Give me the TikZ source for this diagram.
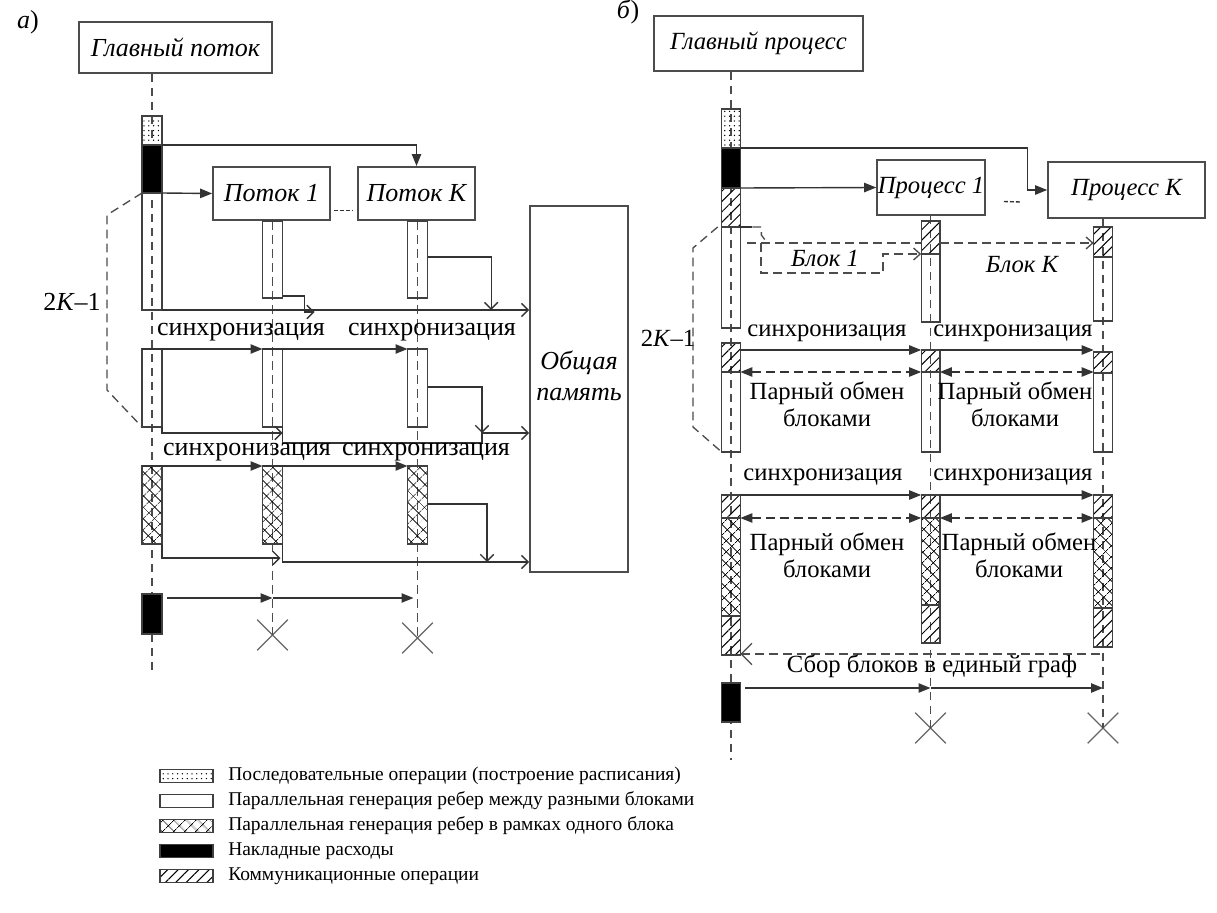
\documentclass[tikz,border=0pt]{standalone}
\usepackage{fontspec}
\setmainfont{Liberation Serif}
\usetikzlibrary{arrows.meta,patterns.meta,shapes.misc,calc}
\newcommand\bseg[6]{\node[#1,#6,anchor=north,minimum height={(#5-#4)*0.75pt}] (#2) at (#3,#4) {};}
\begin{document}
\begin{tikzpicture}[x=0.75pt,y=-0.75pt,
  ln/.style={draw=black!80, line width=1.05pt},
  seg/.style={draw=black!75, line width=1pt, minimum width=15pt, inner sep=0pt, outer sep=0pt},
  segR/.style={seg, minimum width=14pt},
  wht/.style={},
  blk/.style={fill=black},
  dts/.style={pattern={Dots[distance=3.6pt,radius=0.55pt]}},
  hch/.style={pattern={Lines[angle=45,distance=5.5pt,line width=0.75pt]}},
  xch/.style={pattern={Hatch[angle=45,distance=6.5pt,line width=0.6pt]}},
  box/.style={draw=black!70, line width=1.2pt, inner sep=0pt},
  life/.style={draw=black!70, line width=1pt, dash pattern=on 6.5pt off 4pt},
  arr/.style={ln, -{Triangle[length=9pt,width=7pt]}},
  oarr/.style={ln, -{Straight Barb[length=5pt,width=10pt]}},
  darr/.style={ln, dash pattern=on 6.5pt off 4pt, {Triangle[length=9pt,width=7pt]}-{Triangle[length=9pt,width=7pt]}},
  xmark/.style={draw=black!60, line width=1pt, cross out, minimum size=22pt, inner sep=0pt},
  lbl/.style={font=\fontsize{19.5}{23}\selectfont, inner sep=0pt},
  lblI/.style={font=\fontsize{19.5}{23}\selectfont\itshape, inner sep=0pt},
  lblR/.style={font=\fontsize{18.5}{20}\selectfont, inner sep=0pt},
  lblRI/.style={font=\fontsize{18.5}{20}\selectfont\itshape, inner sep=0pt},
  lgd/.style={font=\fontsize{14.6}{17}\selectfont, anchor=west, inner sep=0pt},
]
\useasboundingbox (0,0) rectangle (1217,913);

% ================= panel a =================
\node[lbl] (la) at (28,22) {\textit{а})};
\node[box, lblI, minimum width=144.75pt, minimum height=38.25pt] (aMain) at (175.5,47.5) {Главный поток};
\node[box, lblI, minimum width=87.75pt, minimum height=40pt] (aT1) at (271.5,193.5) {Поток 1};
\node[box, lblI, minimum width=87.75pt, minimum height=40pt] (aTK) at (416.5,193.5) {Поток K};
\node[box, minimum width=73.5pt, minimum height=274.5pt] (aMem) at (579,389) {};
\node[lblI, align=center] (aMemT) at (579,376) {Общая\\память};
\node[xmark] (aX1) at (272.5,635) {};
\node[xmark] (aXK) at (417.5,638) {};

\coordinate (aL) at (152,670);
\draw[life] (aMain.south -| aL) -- (aL);
\draw[life] (aT1.south -| aX1) -- (aX1.center);
\draw[life] (aTK.south -| aXK) -- (aXK.center);

\bseg{seg}{aM0d}{152}{116}{145}{dts}
\bseg{seg}{aM0b}{152}{145}{193}{blk}
\bseg{seg}{aM0w}{152}{193}{310}{wht}
\bseg{seg}{aM1}{152}{349}{427}{wht}
\bseg{seg}{aM2}{152}{466}{544}{xch}
\bseg{seg}{aM3}{152}{594}{634}{blk}
\bseg{seg}{a11}{272.5}{221}{298}{wht}
\bseg{seg}{a12}{272.5}{349}{427}{wht}
\bseg{seg}{a13}{272.5}{466}{544}{xch}
\bseg{seg}{aK1}{417.5}{221}{298}{wht}
\bseg{seg}{aK2}{417.5}{349}{427}{wht}
\bseg{seg}{aK3}{417.5}{466}{544}{xch}

\draw[arr] (aM0b.north east) -| (aTK.north);
\draw[arr] (aM0b.south east) -- (aT1.west);
\draw[ln, dash pattern=on 3pt off 1.5pt] ($(aT1.east)+(3,17)$) -- ($(aTK.west)+(-5,17)$);

% row 1 returns
\draw[oarr] (aM0w.south east) -- (aM0w.south east -| aMem.west);
\draw[oarr] ($(a11.south east)+(0,-2)$) -- ++(22,0) -- ++(0,16) -- ++(10,0);
\draw[oarr] ($(aK1.north east)+(0,36)$) -| ($(aMem.west |- aM0w.south)+(-38,0)$);

% row 2
\draw[arr] (aM1.north west) -- (a12.north west);
\draw[arr] (a12.north west) -- (aK2.north west);
\node[lbl] (as1) at (241,332) {синхронизация};
\node[lbl] (as2) at (432,332) {синхронизация};
\draw[oarr] (aM1.south east) -- ++(0,6) -- ($(a12.south east)+(0,6)$);
\coordinate (aj2) at (482,433);
\draw[oarr] ($(aK2.north east)+(0,38)$) -| (aj2);
\draw[oarr] (a12.south east) |- ($(aj2)+(0,10)$) -- (aj2) -- (aj2 -| aMem.west);

% row 3
\draw[arr] (aM2.north west) -- (a13.north west);
\draw[arr] (a13.north west) -- (aK3.north west);
\node[lbl] (as3) at (247,452) {синхронизация};
\node[lbl] (as4) at (426,452) {синхронизация};
\draw[oarr] (aM2.south east) -- ++(0,14) -- ($(a13.south east)+(-2,14)$);
\coordinate (aj3) at (487,562);
\draw[oarr] ($(aK3.north east)+(0,38)$) -| (aj3);
\draw[oarr] (a13.south east) -- ++(0,18) -- (aj3) -- (aj3 -| aMem.west);

% row 4
\coordinate (a4) at (167,598);
\draw[arr] (a4) -- (a4 -| aX1);
\draw[arr] (a4 -| aX1) -- ($(a4 -| aXK)+(-4,0)$);

% 2K-1
\draw[life] (aM0b.south west) -- (107,215) -- (107,390) -- (aM1.south west);
\node[lbl] (a2k) at (72,302) {2\textit{K}–1};

% ================= panel b =================
\node[lbl] (lb) at (628,12) {\textit{б})};
\node[box, lblRI, minimum width=156.75pt, minimum height=41.25pt] (bMain) at (758.5,43.5) {Главный процесс};
\node[box, lblRI, minimum width=81pt, minimum height=41.25pt] (bP1) at (931,187.5) {Процесс 1};
\node[box, lblRI, minimum width=117.75pt, minimum height=42pt] (bPK) at (1126.5,190) {Процесс K};
\draw[ln, dash pattern=on 3pt off 1.5pt] ($(bP1.east)+(18,14)$) -- ($(bPK.west)+(-27,12)$);
\node[xmark] (bX1) at (930.5,728) {};
\node[xmark] (bXK) at (1103,728) {};

\coordinate (bL) at (731,760);
\draw[life] (bMain.south -| bL) -- (bL);
\draw[life] (bP1.south -| bX1) -- (bX1.center);
\draw[life] (bPK.south -| bXK) -- (bXK.center);

\bseg{segR}{bM0d}{731}{109}{148}{dts}
\bseg{segR}{bM0b}{731}{148}{188}{blk}
\bseg{segR}{bM0h}{731}{188}{227}{hch}
\bseg{segR}{bM0w}{731}{227}{328}{wht}
\bseg{segR}{bM1h}{731}{343}{372}{hch}
\bseg{segR}{bM1w}{731}{372}{452}{wht}
\bseg{segR}{bM2h}{731}{495}{518}{hch}
\bseg{segR}{bM2c}{731}{518}{616}{xch}
\bseg{segR}{bM2e}{731}{616}{655}{hch}
\bseg{segR}{bM3}{731}{683}{722}{blk}
\bseg{segR}{b11h}{930.5}{221}{254}{hch}
\bseg{segR}{b11w}{930.5}{254}{322}{wht}
\bseg{segR}{b12h}{930.5}{350}{372}{hch}
\bseg{segR}{b12w}{930.5}{372}{452}{wht}
\bseg{segR}{b13h}{930.5}{495}{518}{hch}
\bseg{segR}{b13c}{930.5}{518}{605}{xch}
\bseg{segR}{b13e}{930.5}{605}{643}{hch}
\bseg{segR}{bK1h}{1103}{227}{257}{hch}
\bseg{segR}{bK1w}{1103}{257}{321}{wht}
\bseg{segR}{bK2h}{1103}{352}{373}{hch}
\bseg{segR}{bK2w}{1103}{373}{452}{wht}
\bseg{segR}{bK3h}{1103}{495}{518}{hch}
\bseg{segR}{bK3c}{1103}{518}{608}{xch}
\bseg{segR}{bK3e}{1103}{608}{647}{hch}

\draw[arr] (bM0b.north east) -- ++(287,0) |- (bPK.west);
\draw[arr] (bM0b.south east) -- (bP1.west);

% blocks
\draw[ln] (bM0w.north east) -- ++(12,0);
\draw[life] ($(bM0w.north east)+(12,0)$) -- ++(9,0) -- ++(0,8) -- ++(6,8);
\coordinate (bB) at (747,243);
\draw[life] (bB) -- (bB -| b11h.west);
\draw[life, -{Straight Barb[length=5pt,width=9pt]}] (bB -| b11h.east) -- (bB -| bK1h.west);
\coordinate (bB1) at (761,243);
\draw[life, -{Straight Barb[length=5pt,width=9pt]}] (bB1) -- ++(0,30) -- ++(122,0) -- ++(0,-19) -- (b11w.north west);
\node[lblRI] (tb1) at (825,258) {Блок 1};
\node[lblRI] (tbK) at (1022,265) {Блок K};

% row 2
\draw[arr] (bM1h.east |- b12h.north) -- (b12h.north west);
\draw[arr] (b12h.north east) -- (b12h.north east -| bK2h.west);
\draw[darr] (bM1w.north east) -- (b12w.north west);
\draw[darr] (b12w.north east) -- (b12w.north east -| bK2w.west);
\node[lblR] (bs1) at (827,333) {синхронизация};
\node[lblR] (bs2) at (1013,333) {синхронизация};
\node[lblR, align=center] (bp1) at (827,404) {Парный обмен\\блоками};
\node[lblR, align=center] (bp2) at (1015,404) {Парный обмен\\блоками};

% row 3
\draw[arr] (bM2h.north east) -- (b13h.north west);
\draw[arr] (b13h.north east) -- (bK3h.north west);
\draw[darr] (bM2c.north east) -- (b13c.north west);
\draw[darr] (b13c.north east) -- (bK3c.north west);
\node[lblR] (bs3) at (823,477) {синхронизация};
\node[lblR] (bs4) at (1013,477) {синхронизация};
\node[lblR, align=center] (bp3) at (827,555) {Парный обмен\\блоками};
\node[lblR, align=center] (bp4) at (1019,555) {Парный обмен\\блоками};

% gather
\coordinate (bS) at (1100,654);
\draw[life, -{Straight Barb[length=8pt,width=16pt]}] (bS) -- (bS -| bM2e.east);
\node[lblR] (bsb) at (932,666) {Сбор блоков в единый граф};

% row 4
\coordinate (b4) at (745,688);
\draw[arr] (b4) -- (b4 -| bX1);
\draw[arr] (b4 -| bX1) -- (b4 -| bXK);

% 2K-1
\draw[life] ($(bM0w.north west)+(-4,0)$) -- (693,248) -- (693,427) -- (bM1w.south west);
\node[lblR] (b2k) at (668,338) {2\textit{K}–1};

% ================= legend =================
\node[seg, dts, minimum width=39.75pt, minimum height=9.75pt] (g1) at (186.5,776) {};
\node[seg, minimum width=39.75pt, minimum height=9.75pt] (g2) at (186.5,801) {};
\node[seg, xch, minimum width=39.75pt, minimum height=9.75pt] (g3) at (186.5,826) {};
\node[seg, blk, minimum width=39.75pt, minimum height=9.75pt] (g4) at (186.5,851) {};
\node[seg, hch, minimum width=39.75pt, minimum height=9.75pt] (g5) at (186.5,876) {};
\node[lgd] (t1) at (228,776) {Последовательные операции (построение расписания)};
\node[lgd] (t2) at (228,801) {Параллельная генерация ребер между разными блоками};
\node[lgd] (t3) at (228,826) {Параллельная генерация ребер в рамках одного блока};
\node[lgd] (t4) at (228,851) {Накладные расходы};
\node[lgd] (t5) at (228,876) {Коммуникационные операции};
\end{tikzpicture}
\end{document}
